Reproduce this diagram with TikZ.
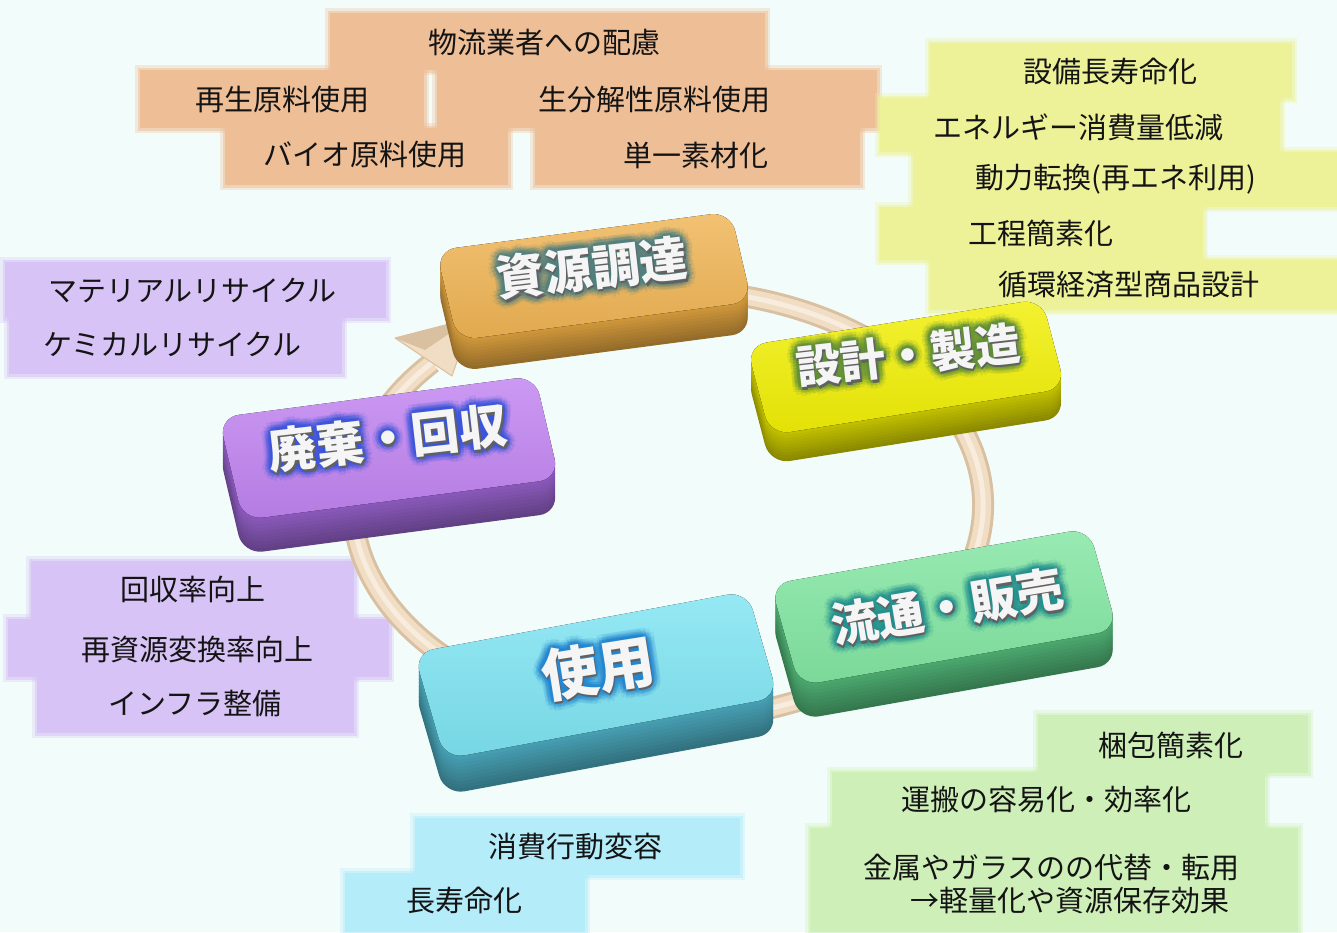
\documentclass[tikz,border=0pt]{standalone}
\usepackage{fontspec}
\setmainfont{Noto Sans CJK JP}
\usetikzlibrary{calc}
\definecolor{bgc}{HTML}{F2FDFB}
\definecolor{lorange}{HTML}{EEBE97}
\definecolor{lyellow}{HTML}{EDF299}
\definecolor{lpurple}{HTML}{D7C3F6}
\definecolor{lcyan}{HTML}{B4ECFA}
\definecolor{lgreen}{HTML}{CEF0B8}
\definecolor{ringc}{HTML}{F0DDC3}
\definecolor{ringd}{HTML}{D9C0A0}
\definecolor{ringl}{HTML}{F7ECDD}
\definecolor{c1top}{HTML}{EFB454}\definecolor{c1side}{HTML}{D39A3C}\definecolor{c1glow}{HTML}{4F7F80}
\definecolor{c2top}{HTML}{F1EF05}\definecolor{c2side}{HTML}{C6C400}\definecolor{c2glow}{HTML}{5F8E3A}
\definecolor{c3top}{HTML}{82E6A2}\definecolor{c3side}{HTML}{4CAB70}\definecolor{c3glow}{HTML}{23908F}
\definecolor{c4top}{HTML}{7EE4F2}\definecolor{c4side}{HTML}{48A2B6}\definecolor{c4glow}{HTML}{2486D0}
\definecolor{c5top}{HTML}{C083F0}\definecolor{c5side}{HTML}{8C5BBE}\definecolor{c5glow}{HTML}{3A55DA}
\tikzset{
  labtext/.style={anchor=west, inner sep=0pt, text=black!92, font=\fontsize{29pt}{29pt}\selectfont},
  boxfont/.style={font=\bfseries\fontsize{#1pt}{#1pt}\selectfont, inner sep=0pt},
  ringline/.style={line cap=butt},
}
\newcommand{\labbox}[5]{%
  \fill[#5, opacity=0.3] (#1-5,#2-5) rectangle (#3+5,#4+5);
  \fill[#5, opacity=0.5] (#1-2.5,#2-2.5) rectangle (#3+2.5,#4+2.5);
  \fill[#5] (#1,#2) rectangle (#3,#4);
}
% name, cx, cy, angle, w, h, depth, top colour, side colour
\newcommand{\cyclebox}[9]{%
  \foreach \kk in {10,9,...,1}{%
    \pgfmathsetmacro{\dd}{#7*\kk/10}%
    \pgfmathtruncatemacro{\pp}{100-3*\kk}%
    \fill[#9!\pp!black, shift={(#2,#3+\dd)}, rotate=#4, xslant=-0.1, rounded corners=20pt] (-#5/2,-#6/2) rectangle (#5/2,#6/2);
  }
  \fill[shift={(#2,#3)}, rotate=#4, xslant=-0.1, rounded corners=20pt,
        top color=#8!82!white, bottom color=#8!94!black] (-#5/2,-#6/2) rectangle (#5/2,#6/2);
  \coordinate (#1) at (#2,#3);
}
% name, x, y, angle, size, glow colour, text
\newcommand{\boxtext}[7]{%
  \foreach \rr/\op/\ii in {9/0.12/a,6/0.2/b,3/0.32/c}{%
    \foreach \ang in {0,30,...,330}{%
      \node[name=#1\ii\ang, boxfont=#5, text=#6, text opacity=\op, rotate=#4] at ($(#2,#3)+(\ang:\rr)$) {#7};
    }
  }
  \node[name=#1s, boxfont=#5, text=black!62, rotate=#4] at (#2+1.5,#3+2.5) {#7};
  \node[name=#1, boxfont=#5, text=white!96!black, rotate=#4] at (#2,#3) {#7};
}
\begin{document}
\begin{tikzpicture}[x=1pt, y=-1pt]
\useasboundingbox (0,0) rectangle (1337,932);
\fill[bgc] (0,0) rectangle (1337,932);
% orange labels
\labbox{330}{13}{765}{70}{lorange}
\labbox{140}{70}{424}{128}{lorange}
\labbox{437}{70}{877}{128}{lorange}
\labbox{225}{128}{508}{185}{lorange}
\labbox{535}{128}{860}{185}{lorange}
\node[labtext] (o1) at (428,42) {物流業者への配慮};
\node[labtext] (o2) at (195,100) {再生原料使用};
\node[labtext] (o3) at (538,100) {生分解性原料使用};
\node[labtext] (o4) at (263,155) {バイオ原料使用};
\node[labtext] (o5) at (623,155) {単一素材化};
% yellow labels
\labbox{930}{43}{1292}{98}{lyellow}
\labbox{880}{98}{1280}{152}{lyellow}
\labbox{913}{152}{1337}{207}{lyellow}
\labbox{880}{207}{1203}{260}{lyellow}
\labbox{930}{260}{1337}{310}{lyellow}
\node[labtext] (y1) at (1023,71) {設備長寿命化};
\node[labtext] (y2) at (933,127) {エネルギー消費量低減};
\node[labtext] (y3) at (975,179) {動力転換(再エネ利用)};
\node[labtext] (y4) at (968,233) {工程簡素化};
\node[labtext] (y5) at (998,285) {循環経済型商品設計};
% purple labels
\labbox{5}{262}{386}{318}{lpurple}
\labbox{9}{318}{342}{374}{lpurple}
\labbox{31}{561}{354}{619}{lpurple}
\labbox{8}{619}{389}{677}{lpurple}
\labbox{37}{677}{354}{733}{lpurple}
\node[labtext] (p1) at (48,290) {マテリアルリサイクル};
\node[labtext] (p2) at (43,344) {ケミカルリサイクル};
\node[labtext] (p3) at (120,589) {回収率向上};
\node[labtext] (p4) at (81,649) {再資源変換率向上};
\node[labtext] (p5) at (108,703) {インフラ整備};
% cyan labels
\labbox{415}{818}{740}{875}{lcyan}
\labbox{345}{873}{585}{932}{lcyan}
\node[labtext] (c1) at (488,847) {消費行動変容};
\node[labtext] (c2) at (406,900) {長寿命化};
% green labels
\labbox{1038}{715}{1308}{773}{lgreen}
\labbox{832}{772}{1265}{828}{lgreen}
\labbox{810}{828}{1298}{932}{lgreen}
\node[labtext] (g1) at (1098,745) {梱包簡素化};
\node[labtext] (g2) at (901,800) {運搬の容易化・効率化};
\node[labtext] (g3) at (863,868) {金属やガラスのの代替・転用};
\node[labtext] (g4) at (910,901) {→軽量化や資源保存効果};
% ring
\draw[ringline, ringd, line width=22pt] (668,505) ++(250:315 and 215) arc[start angle=250, end angle=581.5, x radius=315, y radius=215];
\draw[ringline, ringc, line width=16pt] (668,505) ++(250:315 and 215) arc[start angle=250, end angle=581.5, x radius=315, y radius=215];
\draw[ringline, ringl, line width=5pt] (668,505) ++(250:315 and 215) arc[start angle=250, end angle=581.5, x radius=315, y radius=215];
\fill[ringc, draw=ringd, line width=1pt, line join=round] (395,338) -- (472,318) -- (452,376) -- cycle;
\fill[ringd] (395,338) -- (472,318) -- (425,350) -- cycle;
% cycle boxes
\cyclebox{k1}{594}{276}{7.5}{297}{92}{31}{c1top}{c1side}
\boxtext{k1t}{592}{268}{6.5}{48}{c1glow}{資源調達}
\cyclebox{k2}{906}{367}{9}{299}{92}{29}{c2top}{c2side}
\boxtext{k2t}{908}{355}{6.5}{45}{c2glow}{設計・製造}
\cyclebox{k3}{944}{607}{10}{323}{105}{34}{c3top}{c3side}
\boxtext{k3t}{947}{607}{9.5}{47}{c3glow}{流通・販売}
\cyclebox{k4}{596}{675}{10.5}{339}{110}{36}{c4top}{c4side}
\boxtext{k4t}{598}{668}{9}{57}{c4glow}{使用}
\cyclebox{k5}{389}{448}{7.5}{319}{105}{34}{c5top}{c5side}
\boxtext{k5t}{388}{438}{6.5}{48}{c5glow}{廃棄・回収}
\end{tikzpicture}
\end{document}
